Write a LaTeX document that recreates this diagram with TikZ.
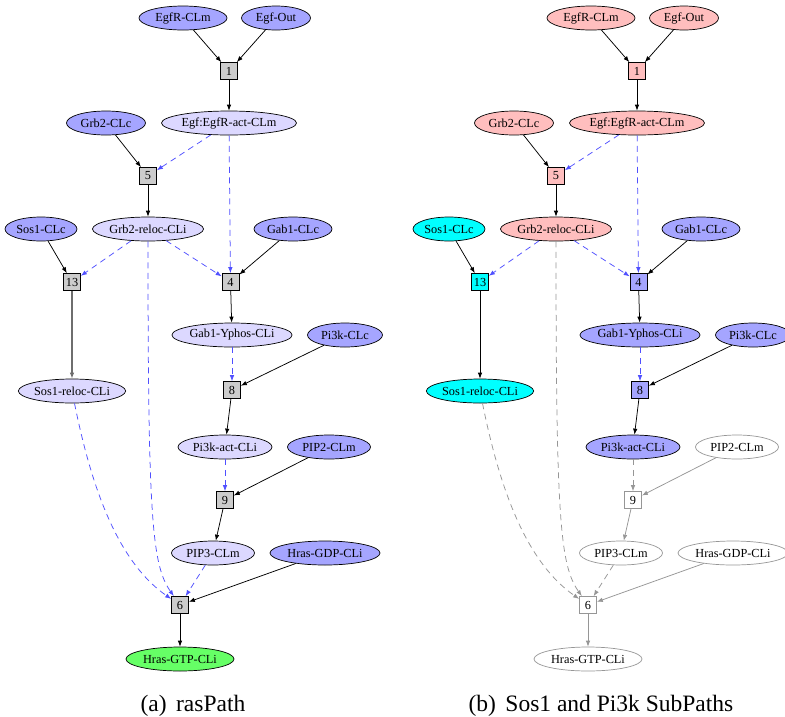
\documentclass[tikz,border=0pt]{standalone}
\usepackage{fontspec}
\setmainfont{Liberation Serif}
\usetikzlibrary{shapes.geometric,arrows.meta}
\definecolor{cBlue}{RGB}{165,165,255}
\definecolor{cLav}{RGB}{220,216,255}
\definecolor{cPink}{RGB}{255,190,190}
\definecolor{cCyan}{RGB}{0,255,255}
\definecolor{cGreen}{RGB}{102,255,102}
\definecolor{cBox}{RGB}{204,204,204}
\definecolor{cDash}{RGB}{80,80,255}
\definecolor{cGray}{RGB}{150,150,150}
\definecolor{cDark}{RGB}{110,110,110}
\tikzset{
  sp/.style={ellipse, draw=black, line width=0.7pt, inner sep=0pt, minimum height=24pt, font=\fontsize{12.3}{14}\selectfont},
  rx/.style={rectangle, draw=black, line width=0.7pt, inner sep=1.5pt, minimum width=17pt, minimum height=17pt, font=\fontsize{12.3}{14}\selectfont},
  arr/.style={-{Latex[length=6pt,width=4.5pt]}, line width=0.75pt, draw=black},
  dsh/.style={arr, draw=cDash, dash pattern=on 6pt off 4.5pt},
  gry/.style={arr, draw=cGray},
  gryd/.style={gry, dash pattern=on 6pt off 4.5pt},
  thk/.style={arr, draw=cDark, line width=1.1pt},
  wsp/.style={sp, draw=cGray, fill=white},
  wrx/.style={rx, draw=cGray, fill=white},
  captext/.style={anchor=base, font=\fontsize{23.5}{28}\selectfont}
}
\begin{document}
\begin{tikzpicture}[x=1pt,y=-1pt]
\useasboundingbox (0,0) rectangle (785,716);
% ---------------- panel (a) ----------------
\node[sp, fill=cBlue, minimum width=88pt] (aEgfR) at (183,18) {EgfR-CLm};
\node[sp, fill=cBlue, minimum width=69pt] (aEgf) at (276,18) {Egf-Out};
\node[rx, fill=cBox] (a1) at (229,71) {1};
\node[sp, fill=cLav, minimum width=135pt] (aAct) at (229,123) {Egf:EgfR-act-CLm};
\node[sp, fill=cBlue, minimum width=79pt] (aGrb) at (106,123) {Grb2-CLc};
\node[rx, fill=cBox] (a5) at (148,176) {5};
\node[sp, fill=cLav, minimum width=111pt] (aGrbR) at (148,229) {Grb2-reloc-CLi};
\node[sp, fill=cBlue, minimum width=72pt] (aSos) at (41,229) {Sos1-CLc};
\node[sp, fill=cBlue, minimum width=78pt] (aGab) at (293,229) {Gab1-CLc};
\node[rx, fill=cBox] (a13) at (72,282) {13};
\node[rx, fill=cBox] (a4) at (230.5,282) {4};
\node[sp, fill=cLav, minimum width=120pt] (aGabY) at (232,335) {Gab1-Yphos-CLi};
\node[sp, fill=cBlue, minimum width=75pt] (aPik) at (345,335) {Pi3k-CLc};
\node[sp, fill=cLav, minimum width=102pt] (aSosR) at (72,391) {Sos1-reloc-CLi};
\node[rx, fill=cBox] (a8) at (232,390) {8};
\node[sp, fill=cLav, minimum width=94pt] (aPiAct) at (225,447) {Pi3k-act-CLi};
\node[sp, fill=cBlue, minimum width=83pt] (aPIP2) at (329,447) {PIP2-CLm};
\node[rx, fill=cBox] (a9) at (225,500) {9};
\node[sp, fill=cLav, minimum width=83pt] (aPIP3) at (213,553) {PIP3-CLm};
\node[sp, fill=cBlue, minimum width=110pt] (aHGDP) at (325,553) {Hras-GDP-CLi};
\node[rx, fill=cBox] (a6) at (180,605) {6};
\node[sp, fill=cGreen, minimum width=108pt] (aHGTP) at (180,659) {Hras-GTP-CLi};
\node[captext] (aCap) at (193,711) {(a)\hspace{0.4em}rasPath};
\draw[arr] (aEgfR) -- (a1);
\draw[arr] (aEgf) -- (a1);
\draw[arr] (a1) -- (aAct);
\draw[arr] (aGrb) -- (a5);
\draw[dsh] (aAct) -- (a5);
\draw[arr] (a5) -- (aGrbR);
\draw[dsh] (aAct) -- (a4);
\draw[arr] (aSos) -- (a13);
\draw[dsh] (aGrbR) -- (a13);
\draw[dsh] (aGrbR) -- (a4);
\draw[arr] (aGab) -- (a4);
\draw[thk] (a13) -- (aSosR);
\draw[arr] (a4) -- (aGabY);
\draw[dsh] (aGabY) -- (a8);
\draw[arr] (aPik) -- (a8);
\draw[arr] (a8) -- (aPiAct);
\draw[dsh] (aPiAct) -- (a9);
\draw[arr] (aPIP2) -- (a9);
\draw[arr] (a9) -- (aPIP3);
\draw[dsh] (aSosR) .. controls (90,480) and (115,560) .. (a6);
\draw[dsh] (aGrbR.south) .. controls (148,520) and (152,565) .. (a6);
\draw[dsh] (aPIP3) -- (a6);
\draw[arr] (aHGDP) -- (a6);
\draw[arr] (a6) -- (aHGTP);
% ---------------- panel (b) ----------------
\begin{scope}[xshift=408pt]
\node[sp, fill=cPink, minimum width=88pt] (bEgfR) at (183,18) {EgfR-CLm};
\node[sp, fill=cPink, minimum width=69pt] (bEgf) at (276,18) {Egf-Out};
\node[rx, fill=cPink] (b1) at (229,71) {1};
\node[sp, fill=cPink, minimum width=135pt] (bAct) at (229,123) {Egf:EgfR-act-CLm};
\node[sp, fill=cPink, minimum width=79pt] (bGrb) at (106,123) {Grb2-CLc};
\node[rx, fill=cPink] (b5) at (148,176) {5};
\node[sp, fill=cPink, minimum width=111pt] (bGrbR) at (148,229) {Grb2-reloc-CLi};
\node[sp, fill=cCyan, minimum width=72pt] (bSos) at (41,229) {Sos1-CLc};
\node[sp, fill=cBlue, minimum width=78pt] (bGab) at (293,229) {Gab1-CLc};
\node[rx, fill=cCyan] (b13) at (72,282) {13};
\node[rx, fill=cBlue] (b4) at (230.5,282) {4};
\node[sp, fill=cBlue, minimum width=120pt] (bGabY) at (232,335) {Gab1-Yphos-CLi};
\node[sp, fill=cBlue, minimum width=75pt] (bPik) at (345,335) {Pi3k-CLc};
\node[sp, fill=cCyan, minimum width=102pt] (bSosR) at (72,391) {Sos1-reloc-CLi};
\node[rx, fill=cBlue] (b8) at (232,390) {8};
\node[sp, fill=cBlue, minimum width=94pt] (bPiAct) at (225,447) {Pi3k-act-CLi};
\node[wsp, minimum width=83pt] (bPIP2) at (329,447) {PIP2-CLm};
\node[wrx] (b9) at (225,500) {9};
\node[wsp, minimum width=83pt] (bPIP3) at (213,553) {PIP3-CLm};
\node[wsp, minimum width=110pt] (bHGDP) at (325,553) {Hras-GDP-CLi};
\node[wrx] (b6) at (180,605) {6};
\node[wsp, minimum width=108pt] (bHGTP) at (180,659) {Hras-GTP-CLi};
\node[captext] (bCap) at (193,711) {(b)\hspace{0.4em}Sos1 and Pi3k SubPaths};
\draw[arr] (bEgfR) -- (b1);
\draw[arr] (bEgf) -- (b1);
\draw[arr] (b1) -- (bAct);
\draw[arr] (bGrb) -- (b5);
\draw[dsh] (bAct) -- (b5);
\draw[arr] (b5) -- (bGrbR);
\draw[dsh] (bAct) -- (b4);
\draw[arr] (bSos) -- (b13);
\draw[dsh] (bGrbR) -- (b13);
\draw[dsh] (bGrbR) -- (b4);
\draw[arr] (bGab) -- (b4);
\draw[arr] (b13) -- (bSosR);
\draw[arr] (b4) -- (bGabY);
\draw[dsh] (bGabY) -- (b8);
\draw[arr] (bPik) -- (b8);
\draw[arr] (b8) -- (bPiAct);
\draw[gryd] (bPiAct) -- (b9);
\draw[gry] (bPIP2) -- (b9);
\draw[gry] (b9) -- (bPIP3);
\draw[gryd] (bSosR) .. controls (90,480) and (115,560) .. (b6);
\draw[gryd] (bGrbR.south) .. controls (148,520) and (152,565) .. (b6);
\draw[gryd] (bPIP3) -- (b6);
\draw[gry] (bHGDP) -- (b6);
\draw[gry] (b6) -- (bHGTP);
\end{scope}
\end{tikzpicture}
\end{document}
